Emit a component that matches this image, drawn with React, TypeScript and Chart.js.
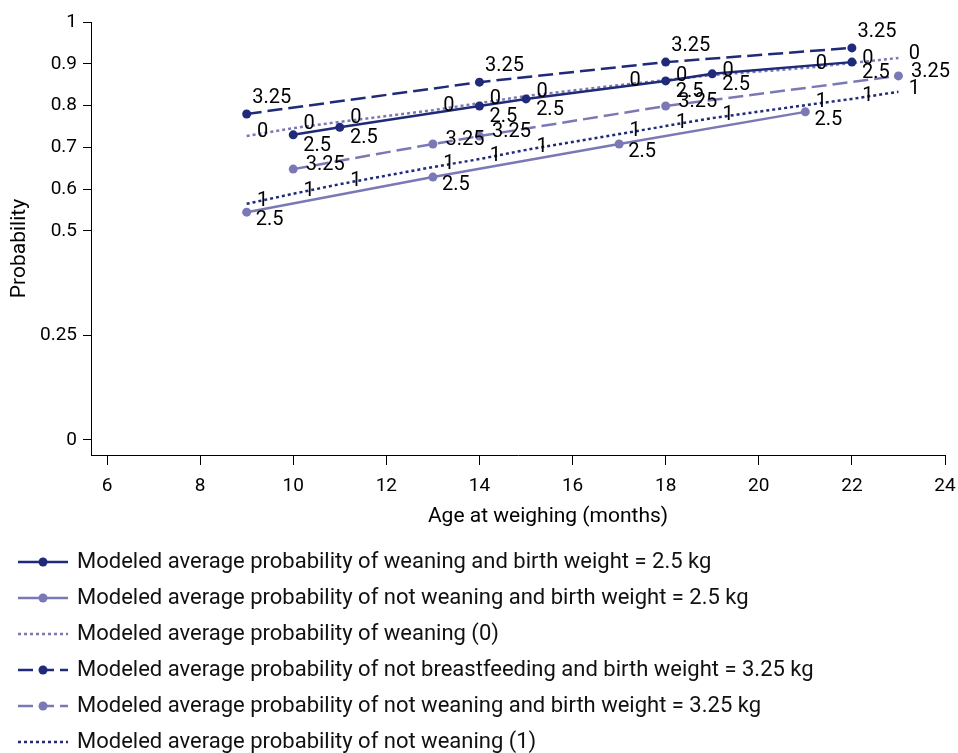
import React, { useEffect, useRef } from "react";
import { Chart, registerables } from "chart.js";

Chart.register(...registerables);

// ---------- data ----------
const xTicks = [6, 8, 10, 12, 14, 16, 18, 20, 22, 24];
const yTicks = [0, 0.25, 0.5, 0.6, 0.7, 0.8, 0.9, 1];

const wean25Ages = [10, 11, 14, 15, 18, 19, 22];
const wean25Prob = [0.730, 0.748, 0.799, 0.816, 0.859, 0.876, 0.904];

const notWean25Ages = [9, 13, 17, 21];
const notWean25Prob = [0.545, 0.629, 0.708, 0.785];

const weanAges = [9, 10, 11, 13, 14, 15, 17, 18, 19, 21, 22, 23];
const weanProb = [0.727, 0.746, 0.761, 0.789, 0.806, 0.823, 0.849, 0.861, 0.873, 0.890, 0.902, 0.914];

const wean325Ages = [9, 14, 18, 22];
const wean325Prob = [0.780, 0.856, 0.904, 0.938];

const notWean325Ages = [10, 13, 14, 18, 23];
const notWean325Prob = [0.648, 0.708, 0.727, 0.799, 0.871];

const notWeanAges = [9, 10, 11, 13, 14, 15, 17, 18, 19, 21, 22, 23];
const notWeanProb = [0.565, 0.589, 0.612, 0.653, 0.672, 0.694, 0.732, 0.751, 0.770, 0.801, 0.816, 0.833];

const seriesNames = [
  "Modeled average probability of weaning and birth weight = 2.5 kg",
  "Modeled average probability of not weaning and birth weight = 2.5 kg",
  "Modeled average probability of weaning (0)",
  "Modeled average probability of not breastfeeding and birth weight = 3.25 kg",
  "Modeled average probability of not weaning and birth weight = 3.25 kg",
  "Modeled average probability of not weaning (1)",
];
const pointLabelTexts = ["2.5", "2.5", "0", "3.25", "3.25", "1"];

const xTitle = "Age at weighing (months)";
const yTitle = "Probability";

// ---------- styles ----------
const DARK = "#1f2a78";
const LIGHT = "#7b79b5";
const FONT = "Roboto";
const labelOffsets = [
  { dx: 24, dy: 11 },
  { dx: 23, dy: 8 },
  { dx: 16, dy: -4 },
  { dx: 25, dy: -16 },
  { dx: 32, dy: -4 },
  { dx: 16, dy: -3 },
];

const toPts = (xs: number[], ys: number[]) => xs.map((x, i) => ({ x, y: ys[i] }));

const pointLabelPlugin = {
  id: "pointLabelPlugin",
  afterDatasetsDraw(chart: any) {
    const ctx = chart.ctx;
    ctx.save();
    ctx.font = `20px ${FONT}`;
    ctx.fillStyle = "#000";
    ctx.textAlign = "center";
    ctx.textBaseline = "middle";
    chart.data.datasets.forEach((ds: any, i: number) => {
      const meta = chart.getDatasetMeta(i);
      const off = labelOffsets[i];
      meta.data.forEach((pt: any) => {
        ctx.fillText(pointLabelTexts[i], pt.x + off.dx, pt.y + off.dy);
      });
    });
    ctx.restore();
  },
};

const decorPlugin = {
  id: "decorPlugin",
  afterDraw(chart: any) {
    const ctx = chart.ctx;
    const area = chart.chartArea;
    ctx.save();
    // axis titles
    ctx.fillStyle = "#000";
    ctx.font = `21px ${FONT}`;
    ctx.textAlign = "center";
    ctx.textBaseline = "middle";
    ctx.fillText(xTitle, (area.left + area.right) / 2 + 30, area.bottom + 62);
    ctx.save();
    ctx.translate(20, (area.top + area.bottom) / 2 + 10);
    ctx.rotate(-Math.PI / 2);
    ctx.fillText(yTitle, 0, 0);
    ctx.restore();

    // legend
    const x0 = 18, x1 = 68, tx = 77;
    chart.data.datasets.forEach((ds: any, i: number) => {
      const y = 562 + i * 36;
      ctx.save();
      ctx.strokeStyle = ds.borderColor;
      ctx.lineWidth = ds.borderWidth;
      ctx.setLineDash(ds.borderDash || []);
      ctx.beginPath();
      ctx.moveTo(x0, y);
      ctx.lineTo(x1, y);
      ctx.stroke();
      ctx.setLineDash([]);
      if (ds.pointRadius > 0) {
        ctx.fillStyle = ds.pointBackgroundColor;
        ctx.beginPath();
        ctx.arc((x0 + x1) / 2, y, ds.pointRadius, 0, Math.PI * 2);
        ctx.fill();
      }
      ctx.restore();
      ctx.fillStyle = "#111";
      ctx.font = `22px ${FONT}`;
      ctx.textAlign = "left";
      ctx.textBaseline = "middle";
      ctx.fillText(seriesNames[i], tx, y);
    });
    ctx.restore();
  },
};

function makeDs(i: number, xs: number[], ys: number[], color: string, dash: number[], radius: number) {
  return {
    label: seriesNames[i],
    data: toPts(xs, ys),
    borderColor: color,
    backgroundColor: color,
    pointBackgroundColor: color,
    pointBorderColor: color,
    pointBorderWidth: 0,
    borderWidth: 2.5,
    borderDash: dash,
    pointRadius: radius,
    pointHoverRadius: radius,
    showLine: true,
    fill: false,
    tension: 0,
  };
}

export default function App() {
  const ref = useRef<HTMLCanvasElement | null>(null);
  useEffect(() => {
    if (!ref.current) return;
    const chart = new Chart(ref.current, {
      type: "scatter",
      data: {
        datasets: [
          makeDs(0, wean25Ages, wean25Prob, DARK, [], 4.5),
          makeDs(1, notWean25Ages, notWean25Prob, LIGHT, [], 4.5),
          makeDs(2, weanAges, weanProb, LIGHT, [3, 3], 0),
          makeDs(3, wean325Ages, wean325Prob, DARK, [15, 6], 4.5),
          makeDs(4, notWean325Ages, notWean325Prob, LIGHT, [15, 6], 4.5),
          makeDs(5, notWeanAges, notWeanProb, DARK, [3, 3], 0),
        ] as any,
      },
      options: {
        animation: false,
        responsive: false,
        devicePixelRatio: 1,
        layout: { padding: { left: 0, top: 22, right: 13, bottom: 238 } },
        plugins: { legend: { display: false }, tooltip: { enabled: false } },
        scales: {
          x: {
            type: "linear",
            min: 5.656,
            max: 24,
            afterBuildTicks: (s: any) => {
              s.ticks = xTicks.map((v) => ({ value: v }));
            },
            afterFit: (s: any) => {
              s.height = 60;
              s.paddingLeft = 0;
              s.paddingRight = 0;
            },
            grid: { drawOnChartArea: false, tickLength: 10, color: "#000", tickColor: "#000", tickWidth: 1 },
            border: { display: true, color: "#000", width: 1 },
            ticks: { color: "#000", font: { family: FONT, size: 19 }, padding: 10, maxRotation: 0, autoSkip: false },
          },
          y: {
            type: "linear",
            min: -0.036,
            max: 1,
            afterBuildTicks: (s: any) => {
              s.ticks = yTicks.map((v) => ({ value: v }));
            },
            afterFit: (s: any) => {
              s.width = 91;
              s.paddingTop = 0;
              s.paddingBottom = 0;
            },
            grid: { drawOnChartArea: false, tickLength: 8, color: "#000", tickColor: "#000", tickWidth: 1 },
            border: { display: true, color: "#000", width: 1 },
            ticks: {
              color: "#000",
              font: { family: FONT, size: 19 },
              padding: 6,
              autoSkip: false,
              callback: (v: any) => String(v),
            },
          },
        },
      },
      plugins: [pointLabelPlugin, decorPlugin],
    });
    return () => chart.destroy();
  }, []);
  return (
    <div style={{ position: "absolute", left: 0, top: 0, width: 958, height: 753, background: "#fff" }}>
      <canvas ref={ref} width={958} height={753} style={{ width: 958, height: 753 }} />
    </div>
  );
}
